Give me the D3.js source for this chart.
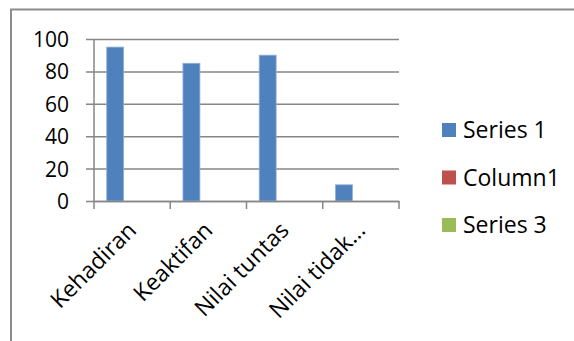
<!DOCTYPE html>
<html><head><meta charset="utf-8">
<script src="https://cdn.jsdelivr.net/npm/d3@7"></script>
<style>body{margin:0;background:#fff}svg{display:block}text{font-family:"Open Sans",sans-serif;fill:#000}</style>
</head><body><svg id="c" width="574" height="341"></svg>
<script>
const categories = ["Kehadiran","Keaktifan","Nilai tuntas","Nilai tidak…"];
const seriesNames = ["Series 1","Column1","Series 3"];
const series1 = [95,85,90,10];
const column1 = [0,0,0,0];
const series3 = [0,0,0,0];
const yTicks = [0,20,40,60,80,100];
const colors = ["#4F81BD","#C0504D","#9BBB59"];

const svg = d3.select("#c");
const gridColor = "#868686";
// outer chart border (cropped at right/bottom)
svg.append("rect").attr("x",11).attr("y",9.5).attr("width",600).attr("height",400)
  .attr("fill","none").attr("stroke","#8c8c8c").attr("stroke-width",2);

const x0 = 94, x1 = 399, yTop = 39, yBot = 201;
const x = d3.scaleBand().domain(categories).range([x0,x1]).paddingInner(0).paddingOuter(0);
const y = d3.scaleLinear().domain([0,100]).range([yBot,yTop]);
// Excel gap width 150%: bar width = band / 4.5, offset 0.75 bar
const bw = x.bandwidth()/4.5;

// gridlines + y ticks
const gy = svg.append("g").attr("transform",`translate(${x0},0)`)
  .call(d3.axisLeft(y).tickValues(yTicks).tickSize(-(x1-x0)).tickSizeOuter(0).tickPadding(25));
gy.select(".domain").remove();
gy.selectAll(".tick line").attr("stroke",gridColor).attr("stroke-width",1.5).attr("x1",-8);
gy.selectAll(".tick text").style("font-size","21px").attr("dy","0.36em");

// y axis line
svg.append("line").attr("x1",x0).attr("x2",x0).attr("y1",yTop).attr("y2",yBot)
  .attr("stroke",gridColor).attr("stroke-width",1.5);

// bars
const data = [series1,column1,series3];
data.forEach((vals,si)=>{
  svg.append("g").selectAll("rect").data(categories).join("rect")
    .attr("x",c=>x(c)+bw*0.75+si*bw)
    .attr("y",(c,i)=>y(vals[i]))
    .attr("width",bw)
    .attr("height",(c,i)=>yBot-y(vals[i]))
    .attr("fill",colors[si])
    .attr("stroke",vals.some(v=>v>0)?"#8fb0d9":"none").attr("stroke-width",0.8);
});

// x axis
const gx = svg.append("g").attr("transform",`translate(0,${yBot})`)
  .call(d3.axisBottom(x).tickSize(0).tickSizeOuter(0));
gx.select(".domain").attr("stroke",gridColor).attr("stroke-width",1.5);
const boundaries = [x0].concat(categories.map(c=>x(c)+x.bandwidth()));
svg.append("g").selectAll("line").data(boundaries).join("line")
  .attr("x1",d=>d).attr("x2",d=>d).attr("y1",yBot).attr("y2",yBot+8)
  .attr("stroke",gridColor).attr("stroke-width",1.5);
gx.selectAll(".tick text")
  .style("font-size","23px")
  .attr("text-anchor","end")
  .attr("dy","0.35em")
  .attr("transform","translate(0,25) rotate(-45)")
  .attr("y",0).attr("x",0);

// legend
const lg = svg.append("g").attr("transform","translate(442,0)");
const rowsY = [130,177.5,225];
seriesNames.forEach((n,i)=>{
  lg.append("rect").attr("x",0).attr("y",rowsY[i]-7).attr("width",14).attr("height",14).attr("fill",colors[i]);
  lg.append("text").attr("x",21).attr("y",rowsY[i]).attr("dy","0.36em").style("font-size","23px").text(n);
});
</script></body></html>
